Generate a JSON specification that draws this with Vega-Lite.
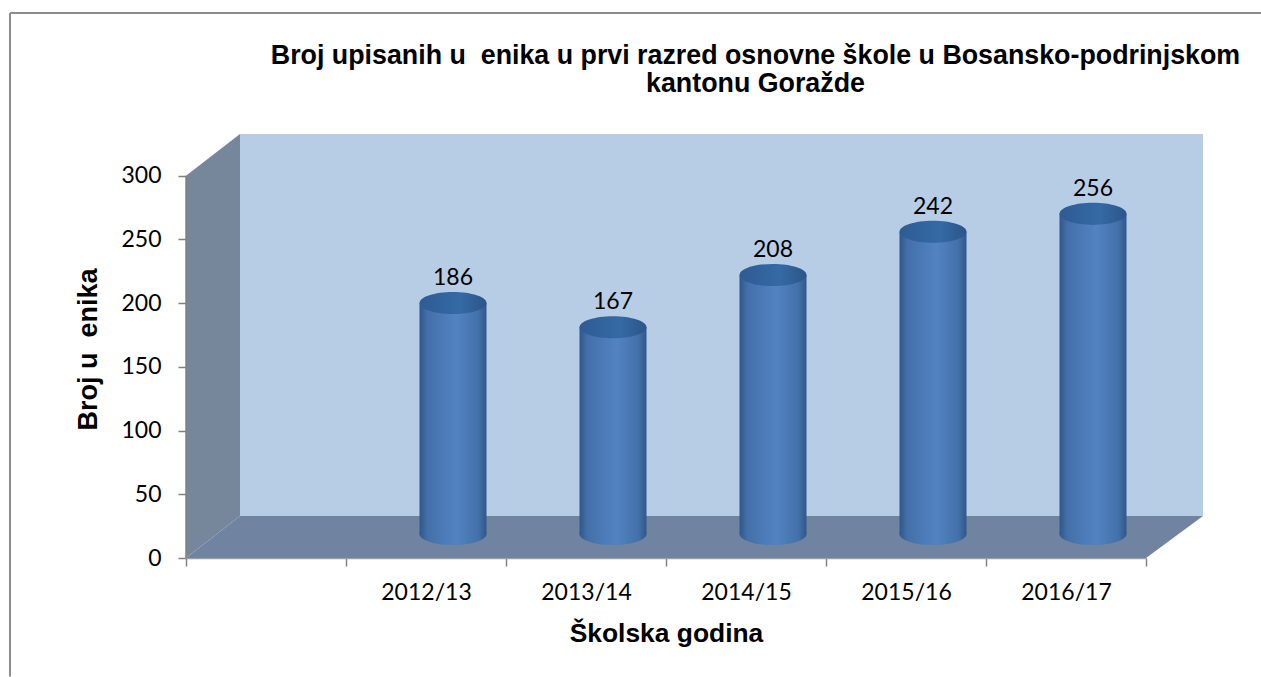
{
"$schema":"https://vega.github.io/schema/vega-lite/v6.json",
"width":1017,"height":424,
"autosize":"none",
"padding":{"left":186,"top":134,"right":58,"bottom":119},
"background":"white",
"view":{"stroke":null},
"title":{"text":["Broj upisanih u\u00a0\u00a0enika u prvi razred osnovne škole u Bosansko-podrinjskom","kantonu Goražde"],"font":"Liberation Sans","fontWeight":"bold","fontSize":26.8,"lineHeight":28,"color":"black","anchor":"middle","frame":"group","dx":61,"offset":-86},
"datasets":{
"students":[{"year":"2012/13","students":186},{"year":"2013/14","students":167},{"year":"2014/15","students":208},{"year":"2015/16","students":242},{"year":"2016/17","students":256}],
"wall":[{"x":0.3375,"low":33,"high":332.8},{"x":6.356,"low":33,"high":332.8}],
"side":[{"x":0,"low":0,"high":300},{"x":0.3375,"low":33,"high":332.8}],
"floor":[{"x":0,"low":0,"high":0},{"x":0.3375,"low":0,"high":33},{"x":6,"low":0,"high":33},{"x":6.356,"low":33,"high":33}],
"frameTop":[{"x":-1.1,"x2":6.72,"y":427.8}],
"frameLeft":[{"x":-1.1,"y":-93,"y2":427.8}],
"yLine":[{"x":0,"y":0,"y2":300}]
},
"resolve":{"scale":{"x":"independent"},"axis":{"x":"independent"}},
"layer":[
{"data":{"name":"wall"},"mark":{"type":"area","color":"#b7cde5","clip":false},
 "encoding":{"x":{"field":"x","type":"quantitative","scale":{"domain":[0,6.356],"nice":false,"zero":false},"axis":null},
 "y":{"field":"low","type":"quantitative","scale":{"domain":[0,332.8],"nice":false},
  "axis":{"values":[0,50,100,150,200,250,300],"domain":false,"grid":false,"tickSize":8,"tickColor":"#808080","tickWidth":1.5,"labelFont":"Lato","labelFontSize":23,"labelColor":"black","labelPadding":17,"title":"Broj u\u00a0\u00a0enika","titleFont":"Liberation Sans","titleFontWeight":"bold","titleFontSize":27,"titleColor":"black","titleBaseline":"middle","titleX":-98,"titleY":215}},
 "y2":{"field":"high"}}},
{"data":{"name":"side"},"mark":{"type":"area","color":"#76869b"},
 "encoding":{"x":{"field":"x","type":"quantitative","scale":{"domain":[0,6.356],"nice":false,"zero":false},"axis":null},"y":{"field":"low","type":"quantitative"},"y2":{"field":"high"}}},
{"data":{"name":"floor"},"mark":{"type":"area","color":"#7084a2"},
 "encoding":{"x":{"field":"x","type":"quantitative","scale":{"domain":[0,6.356],"nice":false,"zero":false},"axis":null},"y":{"field":"low","type":"quantitative"},"y2":{"field":"high"}}},
{"data":{"name":"yLine"},"mark":{"type":"rule","color":"#808080","strokeWidth":1.5},
 "encoding":{"x":{"field":"x","type":"quantitative","scale":{"domain":[0,6.356],"nice":false,"zero":false},"axis":null},"y":{"field":"y","type":"quantitative"},"y2":{"field":"y2"}}},
{"data":{"name":"frameTop"},"mark":{"type":"rule","color":"#8c8c8c","strokeWidth":2},
 "encoding":{"x":{"field":"x","type":"quantitative","scale":{"domain":[0,6.356],"nice":false,"zero":false},"axis":null},"x2":{"field":"x2"},"y":{"field":"y","type":"quantitative"}}},
{"data":{"name":"frameLeft"},"mark":{"type":"rule","color":"#8c8c8c","strokeWidth":2},
 "encoding":{"x":{"field":"x","type":"quantitative","scale":{"domain":[0,6.356],"nice":false,"zero":false},"axis":null},"y":{"field":"y","type":"quantitative"},"y2":{"field":"y2"}}},
{"data":{"name":"students"},
 "mark":{"type":"point","filled":true,"opacity":1,"size":4489,"shape":"M-1,0 A1,0.33 0 1,1 1,0 A1,0.33 0 1,1 -1,0 Z","xOffset":27,"yOffset":-18,
  "fill":{"x1":0,"x2":1,"y1":0,"y2":0,"gradient":"linear","stops":[{"offset":0,"color":"#33568a"},{"offset":0.12,"color":"#4270aa"},{"offset":0.55,"color":"#5283c2"},{"offset":0.88,"color":"#4270aa"},{"offset":1,"color":"#33568a"}]}},
 "encoding":{"x":{"field":"year","type":"nominal","scale":{"domain":["","2012/13","2013/14","2014/15","2015/16","2016/17"],"range":[0,960],"paddingInner":0,"paddingOuter":0},"sort":null,"axis":null},"y":{"datum":4.7,"type":"quantitative"}}},
{"data":{"name":"students"},
 "mark":{"type":"bar","width":67,"xOffset":27,"yOffset":-18,"y2Offset":-18,
  "fill":{"x1":0,"x2":1,"y1":0,"y2":0,"gradient":"linear","stops":[{"offset":0,"color":"#33568a"},{"offset":0.12,"color":"#4270aa"},{"offset":0.55,"color":"#5283c2"},{"offset":0.88,"color":"#4270aa"},{"offset":1,"color":"#33568a"}]}},
 "encoding":{"x":{"field":"year","type":"nominal","sort":null,"scale":{"domain":["","2012/13","2013/14","2014/15","2015/16","2016/17"],"range":[0,960],"paddingInner":0,"paddingOuter":0},
  "axis":{"orient":"bottom","tickBand":"extent","tickExtra":true,"tickSize":8,"tickColor":"#808080","tickWidth":1.5,"domainColor":"#a0a0a0","domainWidth":1.5,"labelAngle":0,"labelFont":"Lato","labelFontSize":23,"labelColor":"black","labelPadding":26,"labelBaseline":"middle","grid":false,"title":"Školska godina","titleFont":"Liberation Sans","titleFontWeight":"bold","titleFontSize":26.4,"titleColor":"black","titleBaseline":"middle","titleY":75}},
  "y":{"field":"students","type":"quantitative"},"y2":{"datum":4.7}}},
{"data":{"name":"students"},
 "mark":{"type":"point","filled":true,"opacity":1,"size":4489,"shape":"M-1,0 A1,0.33 0 1,1 1,0 A1,0.33 0 1,1 -1,0 Z","xOffset":27,"yOffset":-18,
  "fill":{"x1":0,"x2":1,"y1":0,"y2":0,"gradient":"linear","stops":[{"offset":0,"color":"#2f5b92"},{"offset":0.6,"color":"#356aa6"},{"offset":1,"color":"#2c5587"}]}},
 "encoding":{"x":{"field":"year","type":"nominal","sort":null,"scale":{"domain":["","2012/13","2013/14","2014/15","2015/16","2016/17"],"range":[0,960],"paddingInner":0,"paddingOuter":0},"axis":null},"y":{"field":"students","type":"quantitative"}}},
{"data":{"name":"students"},
 "mark":{"type":"text","font":"Lato","fontSize":23,"color":"black","xOffset":27,"yOffset":-43,"baseline":"middle"},
 "encoding":{"x":{"field":"year","type":"nominal","sort":null,"scale":{"domain":["","2012/13","2013/14","2014/15","2015/16","2016/17"],"range":[0,960],"paddingInner":0,"paddingOuter":0},"axis":null},"y":{"field":"students","type":"quantitative"},"text":{"field":"students","type":"quantitative"}}}
]
}
